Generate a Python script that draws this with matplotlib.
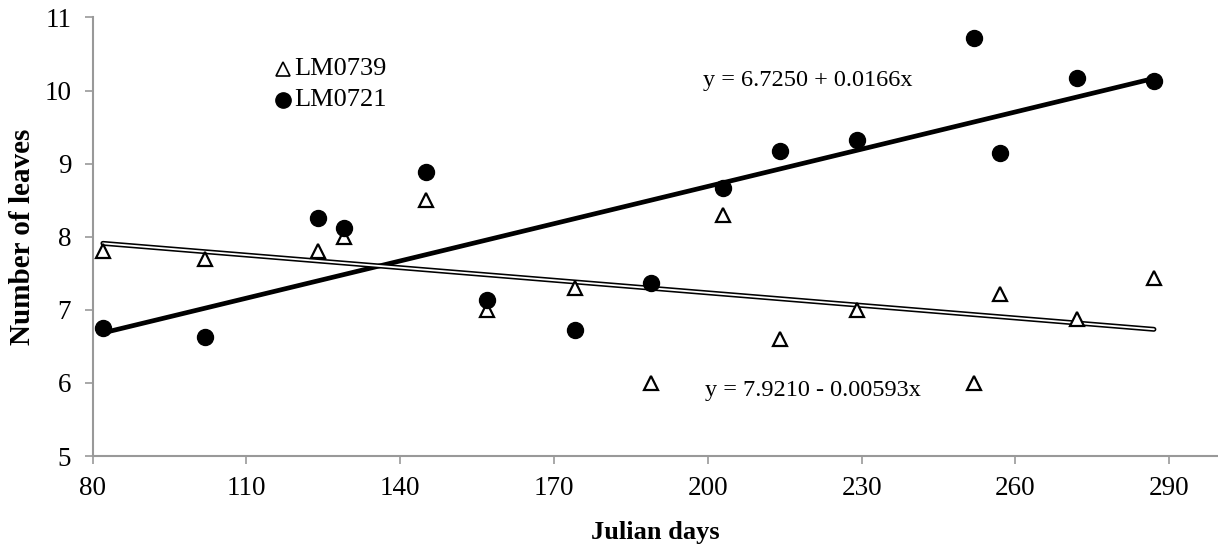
import numpy as np
import matplotlib
matplotlib.use("Agg")
import matplotlib.pyplot as plt

plt.rcParams['font.family'] = ['Liberation Serif', 'DejaVu Serif']

julian_days = [82, 102, 124, 129, 145, 157, 174, 189, 203, 214, 229, 252, 257, 272, 287]
lm0739 = [7.80, 7.70, 7.80, 8.00, 8.50, 7.00, 7.30, 6.00, 8.30, 6.60, 7.00, 6.00, 7.22, 6.88, 7.44]
lm0721 = [6.75, 6.63, 8.25, 8.12, 8.88, 7.14, 6.72, 7.37, 8.67, 9.17, 9.33, 10.72, 9.15, 10.17, 10.13]
x_ticks = [80, 110, 140, 170, 200, 230, 260, 290]
y_ticks = [5, 6, 7, 8, 9, 10, 11]
eq_0721 = "y = 6.7250 + 0.0166x"
eq_0739 = "y = 7.9210 - 0.00593x"

fig = plt.figure(figsize=(12.18, 5.45), dpi=100)
ax = fig.add_axes([0.0761, 0.1633, 0.9239, 0.8047])

x = np.array(julian_days, dtype=float)
xs = np.array([x.min(), x.max()])

# trend lines
p39 = np.polyfit(x, lm0739, 1)
p21 = np.polyfit(x, lm0721, 1)
ax.plot(xs, np.polyval(p39, xs), color='black', lw=3.6, solid_capstyle='round', zorder=2)
ax.plot(xs, np.polyval(p39, xs), color='white', lw=1.3, solid_capstyle='round', zorder=2.1)
ax.plot(xs, np.polyval(p21, xs), color='black', lw=3.4, solid_capstyle='round', zorder=2)

ax.plot(x, lm0739, linestyle='none', marker='^', markersize=10, markerfacecolor='white',
        markeredgecolor='black', markeredgewidth=1.6, zorder=3)
ax.plot(x, lm0721, linestyle='none', marker='o', markersize=11.5, markerfacecolor='black',
        markeredgecolor='black', zorder=3)

ax.set_xlim(80, 299.5)
ax.set_ylim(5, 11)
ax.set_xticks(x_ticks)
ax.set_yticks(y_ticks)
ax.tick_params(axis='both', direction='out', length=5.5, width=1.2, color='#999999',
               labelsize=19.5)
ax.tick_params(axis='x', pad=9)
ax.tick_params(axis='y', pad=10)
for s in ['top', 'right']:
    ax.spines[s].set_visible(False)
for s in ['left', 'bottom']:
    ax.spines[s].set_color('#999999')
    ax.spines[s].set_linewidth(1.5)

ax.set_xlabel('Julian days', fontsize=19, fontweight='bold', labelpad=14)
ax.set_ylabel('Number of leaves', fontsize=21, fontweight='bold', labelpad=6)

# equations
ax.text(199.0, 10.14, eq_0721, fontsize=17.5, ha='left', va='center')
ax.text(199.4, 5.89, eq_0739, fontsize=17.5, ha='left', va='center')

# legend
ax.plot([117.1], [10.29], linestyle='none', marker='^', markersize=9.5, markerfacecolor='white',
        markeredgecolor='black', markeredgewidth=1.2, clip_on=False)
ax.text(119.3, 10.29, 'LM0739', fontsize=19, ha='left', va='center')
ax.plot([117.1], [9.87], linestyle='none', marker='o', markersize=11, markerfacecolor='black',
        markeredgecolor='black', clip_on=False)
ax.text(119.3, 9.87, 'LM0721', fontsize=19, ha='left', va='center')

fig.savefig('out.png', dpi=100)
